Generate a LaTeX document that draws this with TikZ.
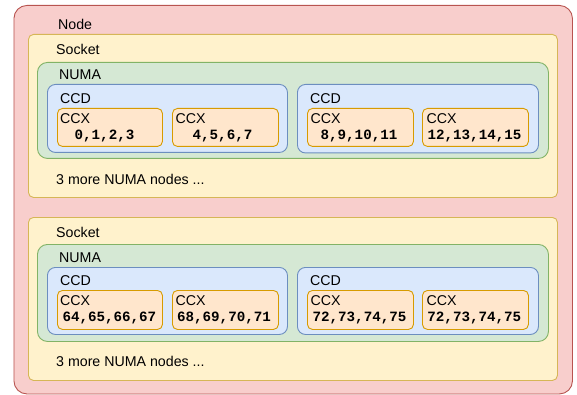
\documentclass[tikz,border=0pt]{standalone}
\usepackage{fontspec}
\setmainfont{Liberation Sans}
\newfontfamily\numfont{Liberation Mono}
\begin{document}
\begin{tikzpicture}[x=1pt,y=-1pt,
  box/.style={draw, line width=0.9pt, inner sep=0pt, anchor=north west},
  nodebox/.style={box, fill=red!0!white, fill={rgb,255:red,248;green,206;blue,204}, draw={rgb,255:red,184;green,84;blue,80}, rounded corners=13pt},
  sockbox/.style={box, fill={rgb,255:red,255;green,242;blue,204}, draw={rgb,255:red,214;green,182;blue,86}, rounded corners=5pt},
  numabox/.style={box, fill={rgb,255:red,213;green,232;blue,212}, draw={rgb,255:red,130;green,179;blue,102}, rounded corners=10pt},
  ccdbox/.style={box, fill={rgb,255:red,218;green,232;blue,252}, draw={rgb,255:red,108;green,142;blue,191}, rounded corners=8pt},
  ccxbox/.style={box, fill={rgb,255:red,255;green,230;blue,204}, draw={rgb,255:red,215;green,155;blue,0}, rounded corners=5pt},
  lbl/.style={inner sep=0pt, anchor=base west, font=\fontsize{14.2}{16}\selectfont},
  num/.style={inner sep=0pt, anchor=base, font=\fontsize{14.2}{16}\selectfont\numfont\bfseries}]
\useasboundingbox (0,0) rectangle (577,395);

% Node
\node[nodebox, minimum width=558.5pt, minimum height=388.5pt] (node) at (13.5,5) {};
\node[lbl] (nodelbl) at (58,29.5) {Node};

% ---------- Socket 1 ----------
\node[sockbox, minimum width=529pt, minimum height=163pt] (sock1) at (28,34) {};
\node[lbl] (sock1lbl) at (56,55) {Socket};
\node[numabox, minimum width=511pt, minimum height=96pt] (numa1) at (37,62) {};
\node[lbl] (numa1lbl) at (59,80) {NUMA};
\node[ccdbox, minimum width=240pt, minimum height=68pt] (ccd1a) at (47,84) {};
\node[lbl] (ccd1albl) at (60,103.3) {CCD};
\node[ccdbox, minimum width=241pt, minimum height=68.5pt] (ccd1b) at (297,84) {};
\node[lbl] (ccd1blbl) at (310,103.3) {CCD};

\node[ccxbox, minimum width=105pt, minimum height=38pt] (ccx1) at (57,108) {};
\node[ccxbox, minimum width=106pt, minimum height=38pt] (ccx2) at (172,108) {};
\node[ccxbox, minimum width=106pt, minimum height=38pt] (ccx3) at (307,108) {};
\node[ccxbox, minimum width=106pt, minimum height=38pt] (ccx4) at (422,108) {};
\node[lbl] (ccx1lbl) at (60,123.3) {CCX};
\node[lbl] (ccx2lbl) at (175.5,123.3) {CCX};
\node[lbl] (ccx3lbl) at (310.5,123.3) {CCX};
\node[lbl] (ccx4lbl) at (426.5,123.3) {CCX};
\node[num] (n1) at (104.5,139.5) {0,1,2,3};
\node[num] (n2) at (222.5,139.5) {4,5,6,7};
\node[num] (n3) at (359,139.5) {8,9,10,11};
\node[num] (n4) at (474.5,139.5) {12,13,14,15};
\node[lbl] (more1) at (56,184.5) {3 more NUMA nodes ...};

% ---------- Socket 2 ----------
\node[sockbox, minimum width=529pt, minimum height=163pt] (sock2) at (28,217) {};
\node[lbl] (sock2lbl) at (56,237.7) {Socket};
\node[numabox, minimum width=511pt, minimum height=97pt] (numa2) at (37,244) {};
\node[lbl] (numa2lbl) at (59,262.7) {NUMA};
\node[ccdbox, minimum width=240pt, minimum height=67pt] (ccd2a) at (47,267) {};
\node[lbl] (ccd2albl) at (60,285.3) {CCD};
\node[ccdbox, minimum width=241pt, minimum height=67pt] (ccd2b) at (297,267) {};
\node[lbl] (ccd2blbl) at (310,285.3) {CCD};

\node[ccxbox, minimum width=105pt, minimum height=39pt] (ccx5) at (57,290) {};
\node[ccxbox, minimum width=106pt, minimum height=39pt] (ccx6) at (172,290) {};
\node[ccxbox, minimum width=106pt, minimum height=39pt] (ccx7) at (307,290) {};
\node[ccxbox, minimum width=106pt, minimum height=39pt] (ccx8) at (422,290) {};
\node[lbl] (ccx5lbl) at (60,305.7) {CCX};
\node[lbl] (ccx6lbl) at (175.5,305.7) {CCX};
\node[lbl] (ccx7lbl) at (310.5,305.7) {CCX};
\node[lbl] (ccx8lbl) at (426.5,305.7) {CCX};
\node[num] (n5) at (109.4,321.7) {64,65,66,67};
\node[num] (n6) at (224,321.7) {68,69,70,71};
\node[num] (n7) at (359.5,321.7) {72,73,74,75};
\node[num] (n8) at (474.3,321.7) {72,73,74,75};
\node[lbl] (more2) at (56,366.7) {3 more NUMA nodes ...};
\end{tikzpicture}
\end{document}
